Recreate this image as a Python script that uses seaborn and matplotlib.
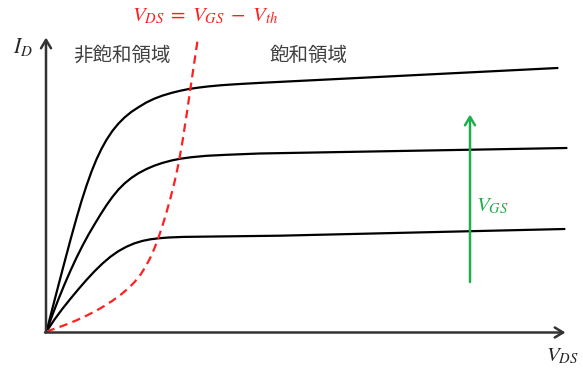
import numpy as np
import pandas as pd
import matplotlib
matplotlib.use("Agg")
import matplotlib.pyplot as plt
import seaborn as sns

# Output characteristics (arbitrary units): V_DS on x, I_D on y
vds_high = [0, 6, 12, 18, 24, 30, 35, 40, 45, 50, 55, 60, 66, 72, 78, 85, 92,
            100, 108, 116, 125, 134, 143, 152, 162, 175, 190, 213, 511]
id_high = [0, 23.4, 46.5, 69.3, 91.8, 113.4, 130.4, 145.9, 159.9, 172.2, 182.7,
           191.7, 200.7, 208.0, 214.0, 219.7, 224.3, 229.1, 232.9, 235.9, 238.6,
           240.8, 242.6, 243.9, 245.1, 246.3, 247.3, 248.6, 263.5]

vds_mid = [0, 6, 12, 18, 24, 30, 36, 42, 48, 54, 60, 66, 72, 78, 85, 92, 100,
           108, 116, 125, 134, 145, 160, 180, 213, 520]
id_mid = [0, 16.8, 32.4, 47.1, 60.9, 73.8, 85.8, 96.9, 107.1, 117.0, 126.3,
          134.7, 142.0, 148.0, 153.7, 158.3, 162.5, 165.9, 168.6, 171.0, 172.8,
          174.3, 175.7, 176.7, 178.0, 183.5]

vds_low = [0, 8, 16, 24, 32, 40, 48, 56, 64, 72, 80, 88, 96, 104, 112, 122,
           137, 233, 518]
id_low = [0, 12.0, 22.8, 32.8, 42.4, 51.6, 60.2, 68.0, 74.8, 80.4, 84.8, 88.2,
          90.6, 92.2, 93.2, 94.0, 94.6, 95.8, 102.5]

# Boundary V_DS = V_GS - V_th
vds_edge = [0, 10, 20, 30, 40, 50, 58, 66, 74, 82, 88, 94, 99, 104, 108, 112,
            116, 120, 124, 128, 132, 136, 140, 144, 148, 151]
id_edge = [0, 3.4, 7.1, 11.2, 15.8, 21.0, 25.6, 30.8, 36.6, 43.4, 49.4, 56.9,
           64.65, 74.15, 83.35, 93.95, 105.95, 119.15, 133.55, 149.35, 167.75,
           190.15, 216.15, 243.35, 270.55, 290.65]

region_labels = ["非飽和領域", "飽和領域"]

curves = pd.concat([
    pd.DataFrame({"VDS": vds_high, "ID": id_high, "VGS": "high"}),
    pd.DataFrame({"VDS": vds_mid, "ID": id_mid, "VGS": "mid"}),
    pd.DataFrame({"VDS": vds_low, "ID": id_low, "VGS": "low"}),
], ignore_index=True)
edge = pd.DataFrame({"VDS": vds_edge, "ID": id_edge})

sns.set_theme(style="white")
plt.rcParams["font.family"] = ["Noto Sans CJK JP", "DejaVu Sans"]
plt.rcParams["mathtext.fontset"] = "stix"

fig = plt.figure(figsize=(5.83, 3.68), dpi=100)
ax = fig.add_axes([0, 0, 1, 1])
ax.set_xlim(-46.5, 536.5)
ax.set_ylim(-36.5, 331.5)
ax.axis("off")

sns.lineplot(data=curves, x="VDS", y="ID", hue="VGS", units="VGS",
             estimator=None, sort=False, palette=["black"] * 3,
             linewidth=1.6, legend=False, ax=ax)
sns.lineplot(data=edge, x="VDS", y="ID", estimator=None, sort=False,
             color="#ff1f1f", linewidth=1.6, ax=ax)
ax.lines[-1].set_linestyle((0, (3.8, 2.4)))
for ln in ax.lines:
    ln.set_solid_joinstyle("round")
    ln.set_solid_capstyle("round")

# Axes with arrow heads
axis_kw = dict(arrowstyle="->,head_length=0.5,head_width=0.3",
               color="#333333", lw=1.8, shrinkA=0, shrinkB=0)
ax.annotate("", xy=(-0.5, 294), xytext=(-0.5, -1), arrowprops=axis_kw)
ax.annotate("", xy=(519, -1), xytext=(-1.5, -1), arrowprops=axis_kw)

# V_GS increasing arrow
ax.annotate("", xy=(423.5, 217), xytext=(423.5, 49.5),
            arrowprops=dict(arrowstyle="->,head_length=0.5,head_width=0.3",
                            color="#1fae4c", lw=1.8, shrinkA=0, shrinkB=0))

ax.text(-23.5, 284, r"$I_D$", fontsize=15.5, ha="center", va="center")
ax.text(515.5, -23.5, r"$V_{DS}$", fontsize=15, ha="center", va="center")
ax.text(446, 126.5, r"$V_{GS}$", fontsize=15, ha="center", va="center",
        color="#1fae4c")
ax.text(158.5, 316, r"$V_{DS}\;=\;V_{GS}\;-\;V_{th}$", fontsize=15,
        ha="center", va="center", color="#ff1f1f")
ax.text(75.5, 276.5, region_labels[0], fontsize=14, ha="center",
        va="center", color="#404040")
ax.text(262.5, 276.5, region_labels[1], fontsize=14, ha="center",
        va="center", color="#404040")

fig.savefig("out.png", dpi=100)
